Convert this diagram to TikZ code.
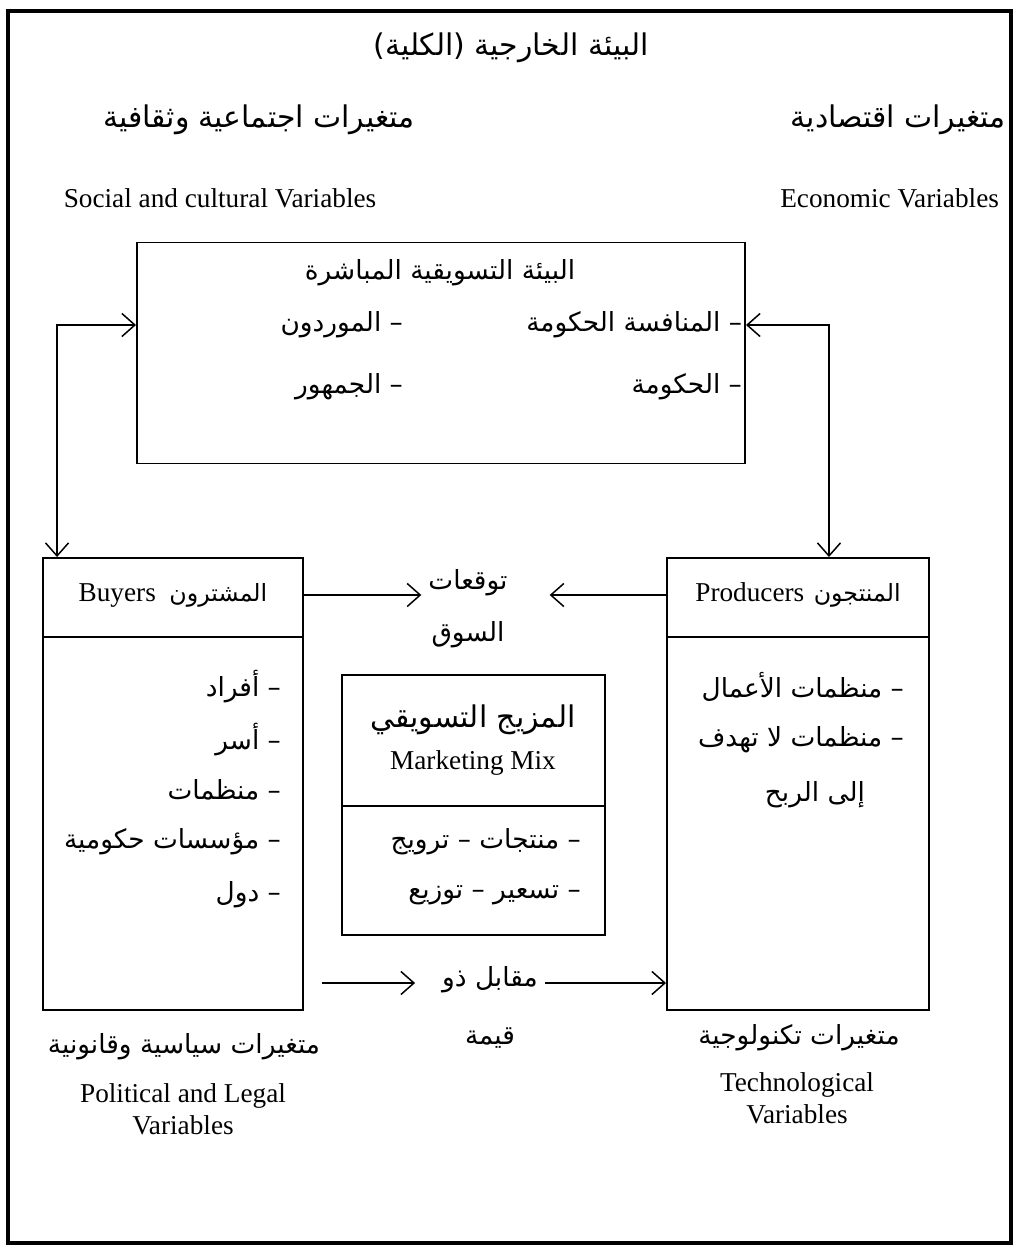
\documentclass[tikz,border=0pt]{standalone}
\usepackage{fontspec}
\setmainfont{Liberation Serif}
\newfontfamily\arabicfont[Script=Arabic]{DejaVu Sans}
\TeXXeTstate=1
\usepackage{tikz}
\usetikzlibrary{positioning}
\usetikzlibrary{arrows.meta}
\newcommand{\arline}[1]{{\arabicfont\beginR #1\endR}}
\tikzset{
  box/.style={draw, rectangle, line width=1.1pt, inner sep=0pt},
  lbl/.style={inner sep=1pt, font=\fontsize{15.5}{18}\selectfont},
  artxt/.style={inner sep=1pt, font=\arabicfont\fontsize{15}{18}\selectfont},
  arbig/.style={inner sep=1pt, font=\arabicfont\fontsize{17}{20}\selectfont},
  arr/.style={line width=0.85pt, -{Straight Barb[length=2.6mm,width=4.6mm]}},
  dblarr/.style={line width=0.85pt, {Straight Barb[length=2.6mm,width=4.6mm]}-{Straight Barb[length=2.6mm,width=4.6mm]}}
}
\begin{document}
\begin{tikzpicture}[x=0.2mm,y=-0.2mm]
        \useasboundingbox (0,0) rectangle (1015,1246);
        % outer frame
        \draw[line width=2pt] (8,11) rectangle (1011,1243);
        % macro environment labels
        \node[arbig] (outer) at (511,48) {\arline{البيئة الخارجية (الكلية)}};
        \node[arbig] (socialar) at (259,120) {\arline{متغيرات اجتماعية وثقافية}};
        \node[arbig, anchor=east] (econar) at (1008,120) {\arline{متغيرات اقتصادية}};
        \node[lbl] (social) at (220,198) {Social and cultural Variables};
        \node[lbl, anchor=east] (econ) at (1001,198) {Economic Variables};
        % immediate environment
        \node[box, minimum width=121.6mm, minimum height=44.2mm] (micro) at (441,353) {};
        \node[artxt] (microtitle) at (440,273) {\arline{البيئة التسويقية المباشرة}};
        \node[artxt, anchor=east] (comp) at (744,325) {\arline{– المنافسة الحكومة}};
        \node[artxt, anchor=east] (suppl) at (405,325) {\arline{– الموردون}};
        \node[artxt, anchor=east] (gov) at (744,387) {\arline{– الحكومة}};
        \node[artxt, anchor=east] (public) at (405,387) {\arline{– الجمهور}};
        % buyers
        \node[box, minimum width=52mm, minimum height=90.4mm] (buyers) at (173,784) {};
        \node[lbl] (buyershead) at (173,595) {Buyers\hspace{0.5em}{\arabicfont\fontsize{13.5}{18}\selectfont\arline{المشترون}}};
        \draw[line width=1.1pt] ([yshift=-16mm]buyers.north west) -- ([yshift=-16mm]buyers.north east);
        \node[artxt, anchor=east] (indiv) at (283,687) {\arline{– أفراد}};
        \node[artxt, anchor=east] (family) at (283,740) {\arline{– أسر}};
        \node[artxt, anchor=east] (orgs) at (283,790) {\arline{– منظمات}};
        \node[artxt, anchor=east] (inst) at (283,842) {\arline{– مؤسسات حكومية}};
        \node[artxt, anchor=east] (states) at (283,895) {\arline{– دول}};
        % producers
        \node[box, minimum width=52.4mm, minimum height=90.4mm] (producers) at (798,784) {};
        \node[lbl] (producershead) at (798,595) {Producers\hspace{0.35em}{\arabicfont\fontsize{13.5}{18}\selectfont\arline{المنتجون}}};
        \draw[line width=1.1pt] ([yshift=-16mm]producers.north west) -- ([yshift=-16mm]producers.north east);
        \node[artxt, anchor=east] (business) at (906,687) {\arline{– منظمات الأعمال}};
        \node[artxt, anchor=east] (nonprofit) at (906,740) {\arline{– منظمات لا تهدف}};
        \node[artxt, anchor=east] (nonprofit2) at (867,795) {\arline{إلى الربح}};
        % marketing mix
        \node[box, minimum width=52.6mm, minimum height=52mm] (mix) at (473.5,805) {};
        \draw[line width=1.1pt] ([yshift=-26.4mm]mix.north west) -- ([yshift=-26.4mm]mix.north east);
        \node[arbig] (mixar) at (473,720) {\arline{المزيج التسويقي}};
        \node[lbl] (mixen) at (473,763) {Marketing Mix};
        \node[artxt, anchor=east] (prodpromo) at (583,842) {\arline{– منتجات – ترويج}};
        \node[artxt, anchor=east] (pricedist) at (583,895) {\arline{– تسعير – توزيع}};
        % exchange labels
        \node[artxt] (expect) at (468,583) {\arline{توقعات}};
        \node[artxt] (market) at (468,635) {\arline{السوق}};
        \node[artxt] (value) at (490,980) {\arline{مقابل ذو}};
        \node[artxt] (worth) at (490,1038) {\arline{قيمة}};
        \coordinate (valuefrom) at (322,983);
        % remaining environment labels
        \node[artxt] (politar) at (184,1047) {\arline{متغيرات سياسية وقانونية}};
        \node[lbl, align=center] (polit) at (183,1109) {Political and Legal\\Variables};
        \node[artxt] (techar) at (799,1038) {\arline{متغيرات تكنولوجية}};
        \node[lbl, align=center] (tech) at (797,1098) {Technological\\Variables};
        % arrows
        \draw[dblarr] ([xshift=3mm]buyers.north west) |- (micro.west |- suppl);
        \draw[dblarr] ([xshift=-20.2mm]producers.north east) |- (micro.east |- comp);
        \draw[arr] (buyers.east |- buyershead) -- ([xshift=-1mm]expect.west |- buyershead);
        \draw[arr] (producers.west |- producershead) -- ([xshift=8mm]expect.east |- producershead);
        \draw[arr] (valuefrom) -- ([xshift=-5mm]value.west |- valuefrom);
        \draw[arr] ([xshift=1mm]value.east |- valuefrom) -- (producers.west |- valuefrom);
\end{tikzpicture}
\end{document}
